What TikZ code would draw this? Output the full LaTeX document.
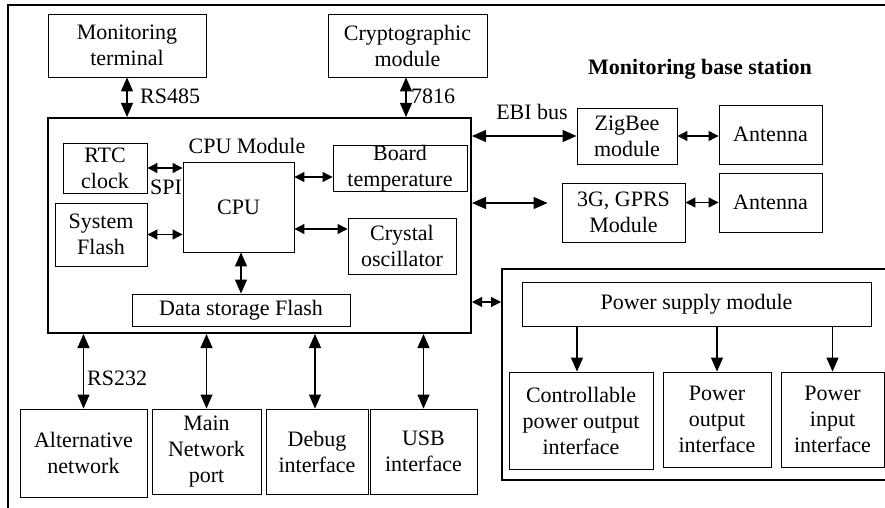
\documentclass[tikz,border=0pt]{standalone}
\usepackage{fontspec}
\setmainfont{Liberation Serif}
\usetikzlibrary{arrows.meta}
\begin{document}
\begin{tikzpicture}[x=1pt,y=-1pt,
  txt/.style={font=\fontsize{22}{26}\selectfont},
  box/.style={draw, line width=0.9pt, align=center, inner sep=0pt, txt},
  thickbox/.style={draw, line width=2pt, inner sep=0pt},
  lbl/.style={inner sep=0pt, txt},
  bi/.style={line width=1.1pt, {Triangle[length=14pt,width=12pt]}-{Triangle[length=14pt,width=12pt]}},
  bis/.style={line width=1.1pt, {Triangle[length=10pt,width=10pt]}-{Triangle[length=10pt,width=10pt]}},
  uni/.style={line width=1.1pt, -{Triangle[length=14pt,width=12pt]}}]
\useasboundingbox (0,0) rectangle (885,508);
% outer frame
\draw[line width=2pt] (8,520) -- (8,5) -- (900,5);
% top boxes
\node[box, minimum width=158pt, minimum height=63pt] (mt) at (127,45.5) {Monitoring\\terminal};
\node[box, minimum width=159pt, minimum height=63pt] (cm) at (407.5,45.5) {Cryptographic\\module};
% main module box
\node[thickbox, minimum width=423pt, minimum height=215pt] (main) at (259.5,225.5) {};
\node[box, minimum width=84pt, minimum height=50pt] (rtc) at (105,168) {RTC\\clock};
\node[box, minimum width=92pt, minimum height=63pt] (sf) at (101,234.5) {System\\Flash};
\node[box, minimum width=111pt, minimum height=90pt] (cpu) at (238.5,207) {CPU};
\node[box, minimum width=134pt, minimum height=46pt] (bt) at (400,168) {Board\\temperature};
\node[box, minimum width=108pt, minimum height=56pt] (co) at (402,246) {Crystal\\oscillator};
\node[box, minimum width=218pt, minimum height=32pt] (dsf) at (241,310) {Data storage Flash};
\node[lbl] (cpum) at (247,146) {CPU Module};
\node[lbl] (spi) at (166,187) {SPI};
% right wireless
\node[lbl, font=\fontsize{22}{26}\selectfont\bfseries] (mbs) at (700,69) {Monitoring base station};
\node[box, minimum width=100pt, minimum height=56pt] (zig) at (627,136) {ZigBee\\module};
\node[box, minimum width=103pt, minimum height=59pt] (ant1) at (770.5,134.5) {Antenna};
\node[box, minimum width=123pt, minimum height=59pt] (g3) at (623.5,212.5) {3G, GPRS\\Module};
\node[box, minimum width=103pt, minimum height=59pt] (ant2) at (770.5,202.5) {Antenna};
\node[lbl] (ebi) at (532,112) {EBI bus};
% power
\node[thickbox, minimum width=398pt, minimum height=211pt] (pow) at (701,374.5) {};
\node[box, minimum width=349pt, minimum height=44pt] (psm) at (696.5,304) {Power supply module};
\node[box, minimum width=144pt, minimum height=97pt] (cpo) at (581,420.5) {Controllable\\power output\\interface};
\node[box, minimum width=108pt, minimum height=95pt] (po) at (717,419.5) {Power\\output\\interface};
\node[box, minimum width=103pt, minimum height=95pt] (pin) at (832.5,419.5) {Power\\input\\interface};
% bottom boxes
\node[box, minimum width=127pt, minimum height=88pt] (alt) at (83.5,453) {Alternative\\network};
\node[box, minimum width=109pt, minimum height=85pt] (mnp) at (206.5,451.5) {Main\\Network\\port};
\node[box, minimum width=102pt, minimum height=85pt] (dbg) at (317,451.5) {Debug\\interface};
\node[box, minimum width=107pt, minimum height=85pt] (usb) at (423.5,451.5) {USB\\interface};
% labels on connectors
\node[lbl, anchor=west] (rs485) at (140,96) {RS485};
\node[lbl, anchor=west] (l7816) at (411,96) {7816};
\node[lbl, anchor=west] (rs232) at (87,378) {RS232};
% connectors
\draw[bi] (mt.south) -- (mt.south |- main.north);
\draw[bi] ([xshift=-1.5pt]cm.south) -- ([xshift=-1.5pt]cm.south |- main.north);
\draw[bis] (rtc.east) -- (rtc.east -| cpu.west);
\draw[bis] (sf.east) -- (sf.east -| cpu.west);
\draw[bis] ([yshift=-9pt]bt.west -| cpu.east) -- ([yshift=-9pt]bt.west);
\draw[bis] ([yshift=17pt]co.west -| cpu.east) -- ([yshift=17pt]co.west);
\draw[bi] ([xshift=2.5pt]cpu.south) -- ([xshift=2.5pt]cpu.south |- dsf.north);
\draw[bi] (main.east |- zig.west) -- (zig.west);
\draw[bis] (zig.east) -- (zig.east -| ant1.west);
\draw[bi] ([yshift=9.5pt]g3.west -| main.east) -- ([xshift=-14pt,yshift=9.5pt]g3.west);
\draw[bis] (g3.east |- ant2.west) -- (ant2.west);
\draw[bis] ([yshift=2pt]psm.west -| main.east) -- ([yshift=2pt]psm.west -| pow.west);
\draw[uni] ([xshift=-4pt]cpo.north |- psm.south) -- ([xshift=-4pt]cpo.north);
\draw[uni] (po.north |- psm.south) -- (po.north);
\draw[uni] (pin.north |- psm.south) -- (pin.north);
\draw[bi] (alt.north |- main.south) -- (alt.north);
\draw[bi] (mnp.north |- main.south) -- (mnp.north);
\draw[bi] ([xshift=-2pt]dbg.north |- main.south) -- ([xshift=-2pt]dbg.north);
\draw[bi] (usb.north |- main.south) -- (usb.north);
\end{tikzpicture}
\end{document}
